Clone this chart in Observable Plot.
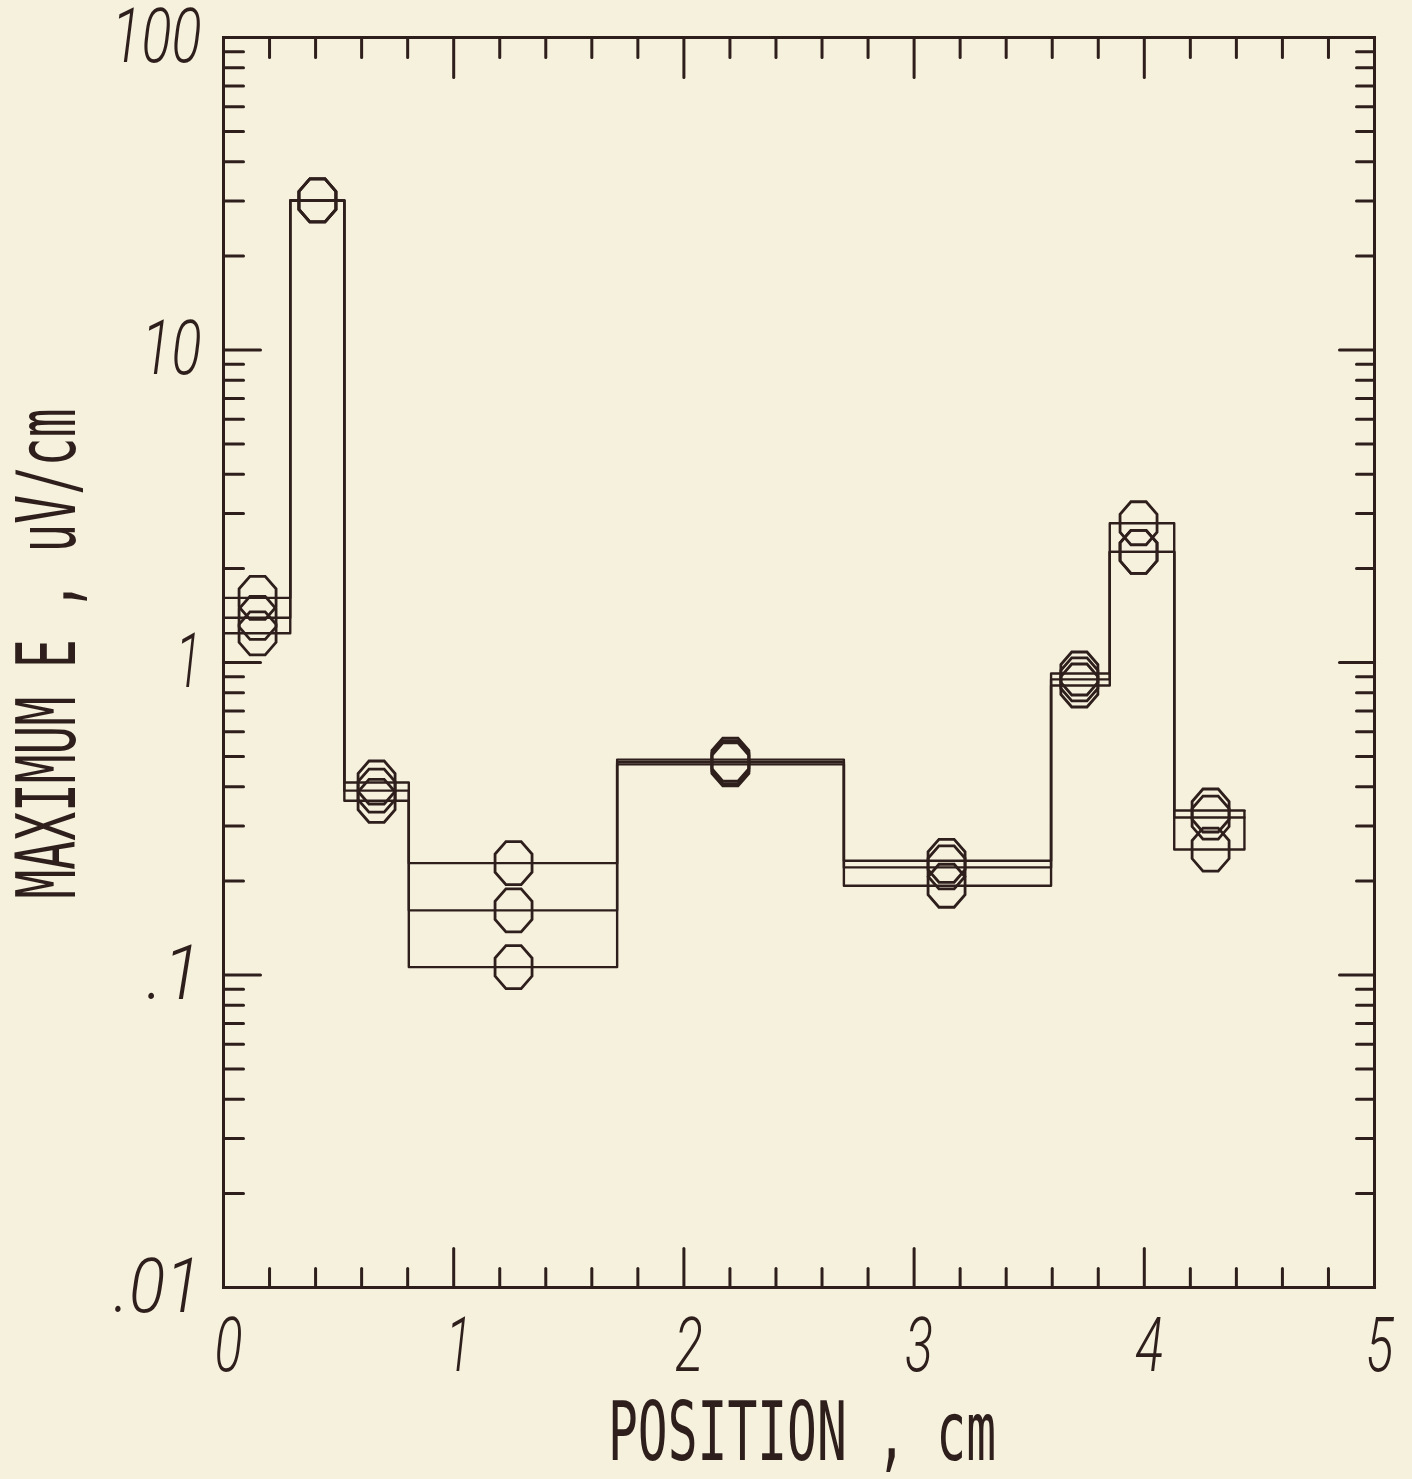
<!DOCTYPE html>
<html>
<head>
<meta charset="utf-8">
<script src="https://cdn.jsdelivr.net/npm/d3@7"></script>
<script src="https://cdn.jsdelivr.net/npm/@observablehq/plot@0.6"></script>
<style>
  html, body { margin: 0; padding: 0; background: #f6f1dd; }
</style>
</head>
<body>
<div id="chart"></div>
<script>
// Bin edges along the position axis (cm)
const binEdges = [0, 0.29, 0.525, 0.805, 1.71, 2.695, 3.595, 3.85, 4.13, 4.435];
// Marker positions (cm), one per bin
const markerX = [0.148, 0.408, 0.665, 1.26, 2.202, 3.141, 3.718, 3.975, 4.288];
// Maximum E (uV/cm) per bin for three series
const seriesA = [1.61, 30.1, 0.413, 0.228, 0.489, 0.232, 0.922, 2.79, 0.336];
const seriesB = [1.39, 30.1, 0.389, 0.161, 0.480, 0.221, 0.883, 2.26, 0.319];
const seriesC = [1.24, 30.1, 0.361, 0.106, 0.472, 0.193, 0.844, 2.26, 0.252];
const seriesNames = ["A", "B", "C"];

// Axis ticks and labels
const xMajorTicks = [0, 1, 2, 3, 4, 5];
const xMinorTicks = [0.2,0.4,0.6,0.8,1.2,1.4,1.6,1.8,2.2,2.4,2.6,2.8,3.2,3.4,3.6,3.8,4.2,4.4,4.6,4.8];
const xTickLabels = ["0", "1", "2", "3", "4", "5"];
const yMajorTicks = [0.01, 0.1, 1, 10, 100];
const yMinorTicks = [0.02,0.03,0.04,0.05,0.06,0.07,0.08,0.09,
                     0.2,0.3,0.4,0.5,0.6,0.7,0.8,0.9,
                     2,3,4,5,6,7,8,9,
                     20,30,40,50,60,70,80,90];
const yTickLabels = [".01", ".1", "1", "10", "100"];
const xTitle = "POSITION , cm";
const yTitle = "MAXIMUM E , uV/cm";

const ink = "#2e1f1c";
const bg = "#f6f1dd";

const allSeries = [seriesA, seriesB, seriesC];
const stepData = allSeries.flatMap((vals, s) => {
  const pts = vals.map((v, i) => ({x: binEdges[i], y: v, s: seriesNames[s]}));
  pts.push({x: binEdges[binEdges.length - 1], y: vals[vals.length - 1], s: seriesNames[s]});
  return pts;
});
const markerData = allSeries.flatMap((vals, s) =>
  vals.map((v, i) => ({x: markerX[i], y: v, s: seriesNames[s]})));
const lastIdx = seriesA.length - 1;
const closeRules = [
  {x: binEdges[0], y1: d3.min(allSeries, a => a[0]), y2: d3.max(allSeries, a => a[0])},
  {x: binEdges[binEdges.length - 1], y1: d3.min(allSeries, a => a[lastIdx]), y2: d3.max(allSeries, a => a[lastIdx])}
];

const octagon = {
  draw(context, size) {
    const r = Math.sqrt(size / Math.PI);
    const hw = 0.925 * r, hh = 1.075 * r, te = 0.38 * r, se = 0.45 * r;
    context.moveTo(-te, -hh);
    context.lineTo(te, -hh);
    context.lineTo(hw, -se);
    context.lineTo(hw, se);
    context.lineTo(te, hh);
    context.lineTo(-te, hh);
    context.lineTo(-hw, se);
    context.lineTo(-hw, -se);
    context.closePath();
  }
};
const tickShape = {
  draw(context, l) {
    context.moveTo(0, 0);
    context.lineTo(0, -l);
  }
};

const tickOpts = {stroke: ink, strokeWidth: 3, anchor: "start", shape: tickShape};
const digitFont = {fontSize: 76, fontStyle: "italic", fontWeight: 300,
  fontFamily: "Roboto, 'DejaVu Sans', sans-serif", fill: ink, lineAnchor: "middle"};
const titleFont = {fontSize: 82, fontFamily: "'DejaVu Sans Mono', monospace",
  fill: ink, textAnchor: "middle", lineAnchor: "middle"};

const svg = Plot.plot({
  width: 1412,
  height: 1479,
  marginLeft: 223,
  marginRight: 38,
  marginTop: 37,
  marginBottom: 192,
  style: {background: bg, color: ink},
  x: {domain: [0, 5], axis: null},
  y: {type: "log", domain: [0.01, 100], axis: null},
  marks: [
    // ticks: bottom (up), top (down), left (right), right (left)
    Plot.vector(xMinorTicks, {x: d => d, y: () => 0.01, length: 19, rotate: 0, ...tickOpts}),
    Plot.vector(xMajorTicks, {x: d => d, y: () => 0.01, length: 39, rotate: 0, ...tickOpts}),
    Plot.vector(xMinorTicks, {x: d => d, y: () => 100, length: 20, rotate: 180, ...tickOpts}),
    Plot.vector(xMajorTicks, {x: d => d, y: () => 100, length: 40, rotate: 180, ...tickOpts}),
    Plot.vector(yMinorTicks, {x: () => 0, y: d => d, length: 20, rotate: 90, ...tickOpts}),
    Plot.vector(yMajorTicks, {x: () => 0, y: d => d, length: 37, rotate: 90, ...tickOpts}),
    Plot.vector(yMinorTicks, {x: () => 5, y: d => d, length: 18, rotate: 270, ...tickOpts}),
    Plot.vector(yMajorTicks, {x: () => 5, y: d => d, length: 35, rotate: 270, ...tickOpts}),
    Plot.frame({stroke: ink, strokeWidth: 3}),
    // data
    Plot.line(stepData, {x: "x", y: "y", z: "s", curve: "step-after", stroke: ink, strokeWidth: 2.4}),
    Plot.ruleX(closeRules, {x: "x", y1: "y1", y2: "y2", stroke: ink, strokeWidth: 2.4}),
    Plot.dot(markerData, {x: "x", y: "y", r: 20, symbol: octagon, fill: "none", stroke: ink, strokeWidth: 2.8}),
    // tick labels
    Plot.text(xMajorTicks, {x: d => d, frameAnchor: "bottom", dy: 59, dx: 5,
      text: (d, i) => xTickLabels[i], textAnchor: "middle", ...digitFont}),
    Plot.text(yMajorTicks, {y: d => d, frameAnchor: "left", dx: -22,
      text: (d, i) => yTickLabels[i], textAnchor: "end", ...digitFont}),
    // axis titles
    Plot.text([xTitle], {frameAnchor: "bottom", dy: 146, dx: 3, text: d => d, ...titleFont}),
    Plot.text([yTitle], {frameAnchor: "left", dx: -175, dy: -9, rotate: -90, text: d => d, ...titleFont})
  ]
});

// condense the glyphs to the narrow plotter lettering
const textLengths = {"0": 28, "1": 26, "2": 28, "3": 28, "4": 28, "5": 28,
  "100": 90, "10": 60, ".1": 55, ".01": 88, [xTitle]: 388, [yTitle]: 490};
svg.querySelectorAll("text").forEach(t => {
  const L = textLengths[t.textContent];
  if (L) {
    t.setAttribute("textLength", L);
    t.setAttribute("lengthAdjust", "spacingAndGlyphs");
  }
});
document.getElementById("chart").appendChild(svg);
</script>
</body>
</html>
